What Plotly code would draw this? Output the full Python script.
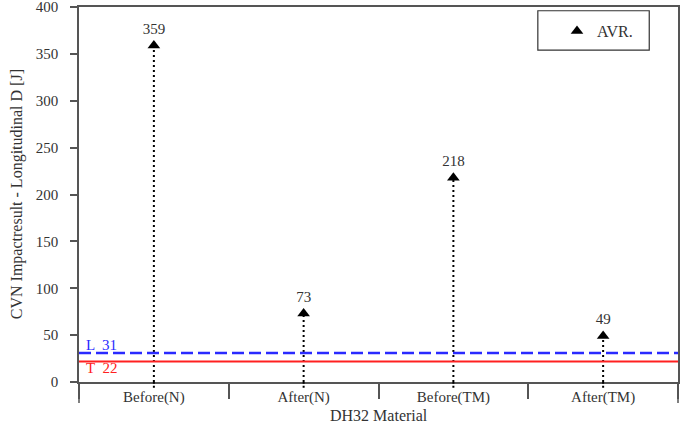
import plotly.graph_objects as go

categories = ["Before(N)", "After(N)", "Before(TM)", "After(TM)"]
avr_values = [359, 73, 218, 49]
limit_L = 31
limit_T = 22
y_ticks = [0, 50, 100, 150, 200, 250, 300, 350, 400]

SERIF = "Liberation Serif, Times New Roman, serif"
AXC = "#555555"
TXT = "#333333"

fig = go.Figure()

# dotted drop lines from 0 to each value
for c, v in zip(categories, avr_values):
    fig.add_trace(go.Scatter(
        x=[c, c], y=[0, v], mode="lines",
        line=dict(color="black", width=2, dash="2px,3px"),
        showlegend=False, hoverinfo="skip"))
    fig.add_shape(type="line", xref="x", yref="paper", x0=c, x1=c, y0=-0.015, y1=0,
                  line=dict(color="black", width=2, dash="2px,2px"))

# limit lines
fig.add_shape(type="line", xref="paper", yref="y", x0=0, x1=1, y0=limit_T, y1=limit_T,
              line=dict(color="#ff2020", width=2))
fig.add_shape(type="line", xref="paper", yref="y", x0=0, x1=1, y0=limit_L, y1=limit_L,
              line=dict(color="#2a2aff", width=2.5, dash="12px,5px"))

# markers with value labels
fig.add_trace(go.Scatter(
    x=categories, y=avr_values, mode="markers+text", name="AVR.",
    marker=dict(symbol="triangle-up", size=11, color="black"),
    text=[str(v) for v in avr_values], textposition="top center",
    textfont=dict(family=SERIF, size=15, color=TXT),
    cliponaxis=False))

fig.add_annotation(xref="paper", x=0.008, xanchor="left", yref="y", y=limit_L, yanchor="bottom",
                   text=f"L  {limit_L}", showarrow=False,
                   font=dict(family=SERIF, size=15, color="#2a2aff"), yshift=-2)
fig.add_annotation(xref="paper", x=0.008, xanchor="left", yref="y", y=limit_T, yanchor="top",
                   text=f"T  {limit_T}", showarrow=False,
                   font=dict(family=SERIF, size=15, color="#ff2020"), yshift=3)

# axis titles
fig.add_annotation(xref="paper", yref="paper", x=0.5, y=-0.117, xanchor="center", yanchor="bottom",
                   text="DH32 Material", showarrow=False,
                   font=dict(family=SERIF, size=16, color=TXT))
fig.add_annotation(xref="paper", yref="paper", x=-0.104, y=0.5, xanchor="center", yanchor="middle",
                   text="CVN Impactresult - Longitudinal D [J]", showarrow=False, textangle=-90,
                   font=dict(family=SERIF, size=16, color=TXT))

# extended outer vertical edges below the axis
for xp in [0, 1]:
    fig.add_shape(type="line", xref="paper", yref="paper", x0=xp, x1=xp, y0=-0.056, y1=0,
                  line=dict(color=AXC, width=1.5))

# legend frame
fig.add_shape(type="rect", xref="paper", yref="paper", x0=0.766, x1=0.952, y0=0.885, y1=0.99,
              line=dict(color=TXT, width=1.2), fillcolor="white", layer="below")

fig.update_layout(
    width=684, height=426,
    margin=dict(l=79, r=6, t=7, b=44, autoexpand=False),
    plot_bgcolor="white", paper_bgcolor="white",
    font=dict(family=SERIF, color=TXT),
    legend=dict(x=0.798, y=0.936, xanchor="left", yanchor="middle",
                borderwidth=0, bgcolor="rgba(0,0,0,0)",
                font=dict(family=SERIF, size=16, color=TXT),
                itemwidth=30),
    xaxis=dict(
        type="category", categoryorder="array", categoryarray=categories,
        range=[-0.5, 3.5], tickson="boundaries", ticks="outside", ticklen=15,
        tickcolor=AXC, tickwidth=1.5, showline=True, linecolor=AXC, linewidth=1.5,
        mirror=True, showgrid=False, zeroline=False, ticklabelstandoff=0,
        automargin=False,
        tickfont=dict(family=SERIF, size=15, color=TXT)),
    yaxis=dict(
        range=[0, 400], tickvals=y_ticks, ticks="outside", ticklen=7,
        tickcolor=AXC, tickwidth=1.5, showline=True, linecolor=AXC, linewidth=1.5,
        mirror=True, showgrid=False, zeroline=False, ticklabeloverflow="allow",
        ticklabelstandoff=9, automargin=False,
        tickfont=dict(family=SERIF, size=15, color=TXT)),
)

fig.write_html("out.html")
